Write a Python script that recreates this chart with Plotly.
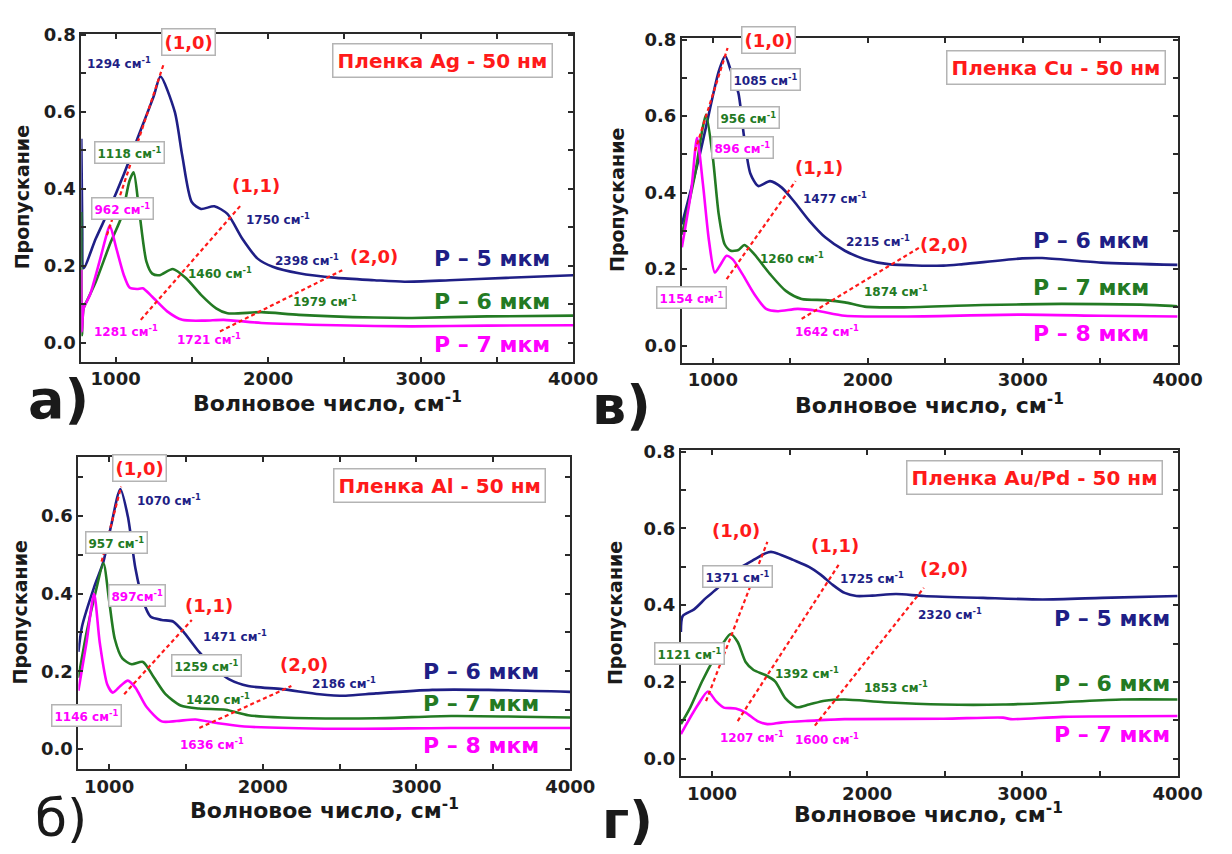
import plotly.graph_objects as go

NAVY = "#1f1f86"
GREEN = "#237a23"
MAGENTA = "#ff00ff"
RED = "#ff1a1a"
FONT = "DejaVu Sans, Liberation Sans, Arial, sans-serif"

# ---------------- Panel a (Ag) ----------------
a_p5_x = [775, 781, 790, 870, 950, 1050, 1150, 1250, 1294, 1388, 1437, 1499, 1560, 1647, 1733, 1832, 1931, 2030, 2202, 2449, 2696, 2894, 3190, 3560, 4000]
a_p5_y = [0.53, 0.30, 0.194, 0.271, 0.34, 0.434, 0.538, 0.641, 0.692, 0.60, 0.486, 0.366, 0.348, 0.355, 0.335, 0.27, 0.219, 0.198, 0.181, 0.169, 0.163, 0.159, 0.163, 0.169, 0.176]
a_p6_x = [775, 779, 790, 820, 870, 968, 1042, 1090, 1118, 1153, 1202, 1240, 1289, 1375, 1462, 1560, 1659, 1733, 1956, 2202, 2696, 2943, 3437, 4000]
a_p6_y = [0.34, 0.02, 0.09, 0.116, 0.159, 0.262, 0.331, 0.42, 0.443, 0.348, 0.211, 0.18, 0.176, 0.192, 0.168, 0.125, 0.09, 0.077, 0.08, 0.073, 0.066, 0.065, 0.069, 0.071]
a_p7_x = [775, 779, 790, 832, 894, 940, 962, 1005, 1054, 1091, 1140, 1178, 1240, 1338, 1437, 1585, 1709, 1956, 2449, 2943, 3437, 4000]
a_p7_y = [0.19, 0.03, 0.09, 0.125, 0.211, 0.28, 0.305, 0.245, 0.176, 0.144, 0.14, 0.142, 0.12, 0.082, 0.06, 0.058, 0.06, 0.052, 0.046, 0.043, 0.045, 0.046]

# ---------------- Panel в (Cu) ----------------
v_p6_x = [800, 911, 962, 1038, 1080, 1115, 1165, 1200, 1242, 1293, 1369, 1445, 1522, 1623, 1725, 1852, 1980, 2132, 2489, 2616, 2997, 3125, 3506, 4000]
v_p6_y = [0.317, 0.491, 0.583, 0.717, 0.757, 0.72, 0.66, 0.55, 0.45, 0.417, 0.43, 0.413, 0.378, 0.326, 0.283, 0.248, 0.226, 0.213, 0.209, 0.213, 0.228, 0.229, 0.217, 0.211]
v_p7_x = [800, 885, 930, 956, 1000, 1038, 1076, 1115, 1165, 1204, 1267, 1369, 1471, 1573, 1725, 1852, 1980, 2234, 2743, 3252, 3761, 4000]
v_p7_y = [0.29, 0.448, 0.56, 0.604, 0.491, 0.343, 0.265, 0.248, 0.25, 0.263, 0.239, 0.187, 0.143, 0.122, 0.119, 0.113, 0.102, 0.1, 0.106, 0.109, 0.107, 0.103]
v_p8_x = [800, 860, 898, 936, 975, 1013, 1051, 1089, 1127, 1191, 1267, 1344, 1420, 1547, 1674, 1852, 2234, 2997, 3506, 4000]
v_p8_y = [0.257, 0.404, 0.543, 0.422, 0.274, 0.191, 0.213, 0.235, 0.226, 0.187, 0.135, 0.096, 0.09, 0.096, 0.091, 0.078, 0.076, 0.081, 0.078, 0.076]

# ---------------- Panel б (Al) ----------------
b_p6_x = [800, 824, 902, 963, 1012, 1073, 1122, 1171, 1220, 1269, 1342, 1416, 1489, 1587, 1685, 1782, 1905, 2125, 2369, 2540, 2736, 3103, 3469, 4000]
b_p6_y = [0.25, 0.316, 0.416, 0.482, 0.573, 0.669, 0.598, 0.465, 0.382, 0.341, 0.332, 0.328, 0.299, 0.249, 0.208, 0.179, 0.162, 0.154, 0.141, 0.137, 0.143, 0.152, 0.152, 0.147]
b_p7_x = [800, 853, 914, 963, 1000, 1037, 1086, 1147, 1220, 1293, 1367, 1465, 1587, 1758, 1905, 2125, 2736, 3225, 4000]
b_p7_y = [0.183, 0.299, 0.407, 0.478, 0.382, 0.283, 0.233, 0.218, 0.224, 0.183, 0.141, 0.112, 0.104, 0.101, 0.087, 0.081, 0.079, 0.085, 0.081]
b_p8_x = [800, 853, 902, 939, 988, 1024, 1073, 1122, 1171, 1244, 1342, 1440, 1562, 1709, 1880, 2491, 3225, 4000]
b_p8_y = [0.15, 0.274, 0.399, 0.274, 0.166, 0.145, 0.162, 0.176, 0.158, 0.108, 0.071, 0.072, 0.076, 0.066, 0.058, 0.052, 0.054, 0.054]

# ---------------- Panel г (Au/Pd) ----------------
g_p5_x = [800, 812, 885, 962, 1038, 1115, 1191, 1268, 1344, 1380, 1421, 1523, 1625, 1702, 1778, 1855, 1931, 2033, 2186, 2365, 2747, 3130, 3513, 4000]
g_p5_y = [0.33, 0.372, 0.389, 0.419, 0.445, 0.479, 0.5, 0.518, 0.535, 0.539, 0.535, 0.518, 0.5, 0.479, 0.453, 0.432, 0.424, 0.425, 0.429, 0.424, 0.419, 0.415, 0.419, 0.424]
g_p6_x = [800, 860, 936, 1013, 1077, 1120, 1166, 1217, 1268, 1344, 1408, 1472, 1548, 1625, 1727, 1855, 2110, 2492, 2875, 3258, 3640, 4000]
g_p6_y = [0.09, 0.133, 0.201, 0.261, 0.304, 0.325, 0.304, 0.252, 0.231, 0.218, 0.201, 0.158, 0.134, 0.141, 0.151, 0.154, 0.147, 0.141, 0.141, 0.147, 0.154, 0.154]
g_p7_x = [800, 847, 911, 974, 1026, 1077, 1153, 1217, 1293, 1357, 1446, 1600, 1855, 2492, 2875, 2926, 3258, 4000]
g_p7_y = [0.064, 0.098, 0.141, 0.175, 0.15, 0.133, 0.131, 0.12, 0.098, 0.09, 0.094, 0.098, 0.103, 0.104, 0.107, 0.103, 0.109, 0.111]

# ---------------- red guide lines (mode (1,0), (1,1), (2,0)) ----------------
a_g10_x, a_g10_y = [943, 1314], [0.28, 0.723]
a_g11_x, a_g11_y = [1165, 1820], [0.060, 0.357]
a_g20_x, a_g20_y = [1684, 2486], [0.030, 0.189]
v_g10_x, v_g10_y = [885, 1095], [0.509, 0.778]
v_g11_x, v_g11_y = [1089, 1534], [0.174, 0.43]
v_g20_x, v_g20_y = [1573, 2336], [0.07, 0.257]
b_g10_x, b_g10_y = [951, 1078], [0.482, 0.675]
b_g11_x, b_g11_y = [1098, 1538], [0.141, 0.332]
b_g20_x, b_g20_y = [1587, 2186], [0.054, 0.162]
g_g10_x, g_g10_y = [962, 1357], [0.15, 0.565]
g_g11_x, g_g11_y = [1166, 1816], [0.098, 0.505]
g_g20_x, g_g20_y = [1663, 2365], [0.086, 0.445]

x_tickvals = [1000, 1500, 2000, 2500, 3000, 3500, 4000]
x_ticktext = ["1000", "", "2000", "", "3000", "", "4000"]
y_tickvals = [0.0, 0.1, 0.2, 0.3, 0.4, 0.5, 0.6, 0.7, 0.8]
y_ticktext = ["0.0", "", "0.2", "", "0.4", "", "0.6", "", "0.8"]

fig = go.Figure()

panels = [
    ("x", "y", [(a_p5_x, a_p5_y, NAVY), (a_p6_x, a_p6_y, GREEN), (a_p7_x, a_p7_y, MAGENTA)],
     [(a_g10_x, a_g10_y), (a_g11_x, a_g11_y), (a_g20_x, a_g20_y)]),
    ("x2", "y2", [(v_p6_x, v_p6_y, NAVY), (v_p7_x, v_p7_y, GREEN), (v_p8_x, v_p8_y, MAGENTA)],
     [(v_g10_x, v_g10_y), (v_g11_x, v_g11_y), (v_g20_x, v_g20_y)]),
    ("x3", "y3", [(b_p6_x, b_p6_y, NAVY), (b_p7_x, b_p7_y, GREEN), (b_p8_x, b_p8_y, MAGENTA)],
     [(b_g10_x, b_g10_y), (b_g11_x, b_g11_y), (b_g20_x, b_g20_y)]),
    ("x4", "y4", [(g_p5_x, g_p5_y, NAVY), (g_p6_x, g_p6_y, GREEN), (g_p7_x, g_p7_y, MAGENTA)],
     [(g_g10_x, g_g10_y), (g_g11_x, g_g11_y), (g_g20_x, g_g20_y)]),
]

for xa, ya, curves, guides in panels:
    for xs, ys, col in curves:
        fig.add_trace(go.Scatter(x=xs, y=ys, mode="lines", xaxis=xa, yaxis=ya,
                                 line=dict(color=col, width=2.6, shape="spline", smoothing=0.7),
                                 showlegend=False, hoverinfo="skip"))
    for xs, ys in guides:
        fig.add_trace(go.Scatter(x=xs, y=ys, mode="lines", xaxis=xa, yaxis=ya,
                                 line=dict(color=RED, width=2.2, dash="4px,3px"),
                                 showlegend=False, hoverinfo="skip"))

def axis_common():
    return dict(showline=True, linecolor="#2a2a2a", linewidth=2, mirror="allticks",
                ticks="inside", ticklen=5, tickwidth=2, tickcolor="#2a2a2a",
                showgrid=False, zeroline=False,
                tickfont=dict(family=FONT, size=18, color="#1e1e1e", weight="bold"))

def px_to_paper_x(p):
    return p / 1232.0

def px_to_paper_y(p):
    return 1 - p / 854.0

domains = {
    "a": ((83, 585), (24, 356), (775, 4000), (-0.049, 0.803)),
    "v": ((696, 1202), (28, 357), (800, 4000), (-0.045, 0.805)),
    "b": ((80, 582), (452, 768), (800, 4000), (-0.0515, 0.752)),
    "g": ((695, 1202), (445, 775), (800, 4000), (-0.045, 0.805)),
}
layout = {}
for i, key in enumerate(["a", "v", "b", "g"]):
    (x0, x1), (y0, y1), xr, yr = domains[key]
    n = "" if i == 0 else str(i + 1)
    xd = axis_common()
    xd.update(domain=[px_to_paper_x(x0), px_to_paper_x(x1)], range=list(xr), anchor="y" + n,
              tickvals=x_tickvals, ticktext=x_ticktext)
    yd = axis_common()
    yd.update(domain=[px_to_paper_y(y1), px_to_paper_y(y0)], range=list(yr), anchor="x" + n,
              tickvals=y_tickvals, ticktext=y_ticktext)
    layout["xaxis" + n] = xd
    layout["yaxis" + n] = yd

annotations = []

def txt(xref, yref, x, y, text, color, size=12, box=False, weight="bold", pad=2):
    d = dict(xref=xref, yref=yref, x=x, y=y, text=text, showarrow=False,
             font=dict(family=FONT, size=size, color=color, weight=weight),
             xanchor="center", yanchor="middle")
    if box:
        d.update(bgcolor="white", bordercolor="#b4b4b4", borderwidth=1.5, borderpad=pad)
    return d

CM = " см<sup>-1</sup>"
S = 12     # small peak labels
M = 18     # mode labels
P = 22     # period labels
F = 20     # film labels

# Panel a
A = ("x", "y")
annotations += [
    txt(*A, 1475, 0.782, "(1,0)", RED, M, box=True),
    txt(*A, 1019, 0.728, "1294" + CM, NAVY, S),
    txt(*A, 1091, 0.495, "1118" + CM, GREEN, S, box=True),
    txt(*A, 1042, 0.348, "962" + CM, MAGENTA, S, box=True),
    txt(*A, 1919, 0.409, "(1,1)", RED, M),
    txt(*A, 2067, 0.323, "1750" + CM, NAVY, S),
    txt(*A, 2252, 0.215, "2398" + CM, NAVY, S),
    txt(*A, 2696, 0.224, "(2,0)", RED, M),
    txt(*A, 1684, 0.181, "1460" + CM, GREEN, S),
    txt(*A, 2375, 0.108, "1979" + CM, GREEN, S),
    txt(*A, 1067, 0.030, "1281" + CM, MAGENTA, S),
    txt(*A, 1610, 0.009, "1721" + CM, MAGENTA, S),
    txt(*A, 3145, 0.733, "Пленка Ag - 50 нм", RED, F, box=True, pad=4),
    txt(*A, 3470, 0.219, "P – 5 мкм", NAVY, P),
    txt(*A, 3470, 0.108, "P – 6 мкм", GREEN, P),
    txt(*A, 3470, -0.003, "P – 7 мкм", MAGENTA, P),
]
# Panel в
V = ("x2", "y2")
annotations += [
    txt(*V, 1356, 0.800, "(1,0)", RED, M, box=True),
    txt(*V, 1340, 0.695, "1085" + CM, NAVY, S, box=True),
    txt(*V, 1230, 0.597, "956" + CM, GREEN, S, box=True),
    txt(*V, 1192, 0.518, "896" + CM, MAGENTA, S, box=True),
    txt(*V, 1687, 0.465, "(1,1)", RED, M),
    txt(*V, 1789, 0.387, "1477" + CM, NAVY, S),
    txt(*V, 2069, 0.274, "2215" + CM, NAVY, S),
    txt(*V, 2489, 0.265, "(2,0)", RED, M),
    txt(*V, 1509, 0.230, "1260" + CM, GREEN, S),
    txt(*V, 2183, 0.143, "1874" + CM, GREEN, S),
    txt(*V, 860, 0.126, "1154" + CM, MAGENTA, S, box=True),
    txt(*V, 1738, 0.039, "1642" + CM, MAGENTA, S),
    txt(*V, 3214, 0.726, "Пленка Cu - 50 нм", RED, F, box=True, pad=4),
    txt(*V, 3440, 0.274, "P – 6 мкм", NAVY, P),
    txt(*V, 3440, 0.152, "P – 7 мкм", GREEN, P),
    txt(*V, 3440, 0.032, "P – 8 мкм", MAGENTA, P),
]
# Panel б
B = ("x3", "y3")
annotations += [
    txt(*B, 1196, 0.723, "(1,0)", RED, M, box=True),
    txt(*B, 1391, 0.640, "1070" + CM, NAVY, S),
    txt(*B, 1049, 0.532, "957" + CM, GREEN, S, box=True),
    txt(*B, 1183, 0.395, "897см<sup>-1</sup>", MAGENTA, S, box=True),
    txt(*B, 1648, 0.370, "(1,1)", RED, M),
    txt(*B, 1819, 0.291, "1471" + CM, NAVY, S),
    txt(*B, 1631, 0.216, "1259" + CM, GREEN, S, box=True),
    txt(*B, 2271, 0.218, "(2,0)", RED, M),
    txt(*B, 2528, 0.170, "2186" + CM, NAVY, S),
    txt(*B, 1709, 0.129, "1420" + CM, GREEN, S),
    txt(*B, 853, 0.087, "1146" + CM, MAGENTA, S, box=True),
    txt(*B, 1672, 0.012, "1636" + CM, MAGENTA, S),
    txt(*B, 3152, 0.677, "Пленка Al - 50 нм", RED, F, box=True, pad=4),
    txt(*B, 3420, 0.199, "P – 6 мкм", NAVY, P),
    txt(*B, 3420, 0.116, "P – 7 мкм", GREEN, P),
    txt(*B, 3420, 0.008, "P – 8 мкм", MAGENTA, P),
]
# Panel г
G = ("x4", "y4")
annotations += [
    txt(*G, 1153, 0.595, "(1,0)", RED, M),
    txt(*G, 1791, 0.556, "(1,1)", RED, M),
    txt(*G, 2492, 0.496, "(2,0)", RED, M),
    txt(*G, 1166, 0.475, "1371" + CM, NAVY, S, box=True),
    txt(*G, 2033, 0.471, "1725" + CM, NAVY, S),
    txt(*G, 2531, 0.376, "2320" + CM, NAVY, S),
    txt(*G, 855, 0.274, "1121" + CM, GREEN, S, box=True),
    txt(*G, 1612, 0.222, "1392" + CM, GREEN, S),
    txt(*G, 2186, 0.188, "1853" + CM, GREEN, S),
    txt(*G, 760, 0.111, "983" + CM, MAGENTA, S, box=True),
    txt(*G, 1255, 0.056, "1207" + CM, MAGENTA, S),
    txt(*G, 1740, 0.051, "1600" + CM, MAGENTA, S),
    txt(*G, 3079, 0.732, "Пленка Au/Pd - 50 нм", RED, F, box=True, pad=4),
    txt(*G, 3575, 0.364, "P – 5 мкм", NAVY, P),
    txt(*G, 3575, 0.197, "P – 6 мкм", GREEN, P),
    txt(*G, 3575, 0.064, "P – 7 мкм", MAGENTA, P),
]

# Axis titles and panel letters (paper coordinates)
def paper(xp, yp, text, size, angle=0, weight="bold"):
    return dict(xref="paper", yref="paper", x=px_to_paper_x(xp), y=px_to_paper_y(yp),
                text=text, showarrow=False, textangle=angle,
                font=dict(family=FONT, size=size, color="#1a1a1a", weight=weight),
                xanchor="center", yanchor="middle")

XT = "Волновое число, см<sup>-1</sup>"
annotations += [
    paper(22, 190, "Пропускание", 19, -90),
    paper(630, 192, "Пропускание", 19, -90),
    paper(20, 610, "Пропускание", 19, -90),
    paper(628, 610, "Пропускание", 19, -90),
    paper(334, 397, XT, 22),
    paper(949, 399, XT, 22),
    paper(331, 808, XT, 22),
    paper(948, 813, XT, 22),
    paper(60, 394, "а)", 54),
    paper(634, 400, "в)", 54),
    paper(62, 818, "б)", 52, weight="normal"),
    paper(640, 820, "г)", 52),
]

fig.update_layout(**layout)
fig.update_layout(width=1232, height=854, margin=dict(l=0, r=0, t=0, b=0),
                  paper_bgcolor="white", plot_bgcolor="white",
                  annotations=annotations, showlegend=False)

fig.write_html("out.html")
